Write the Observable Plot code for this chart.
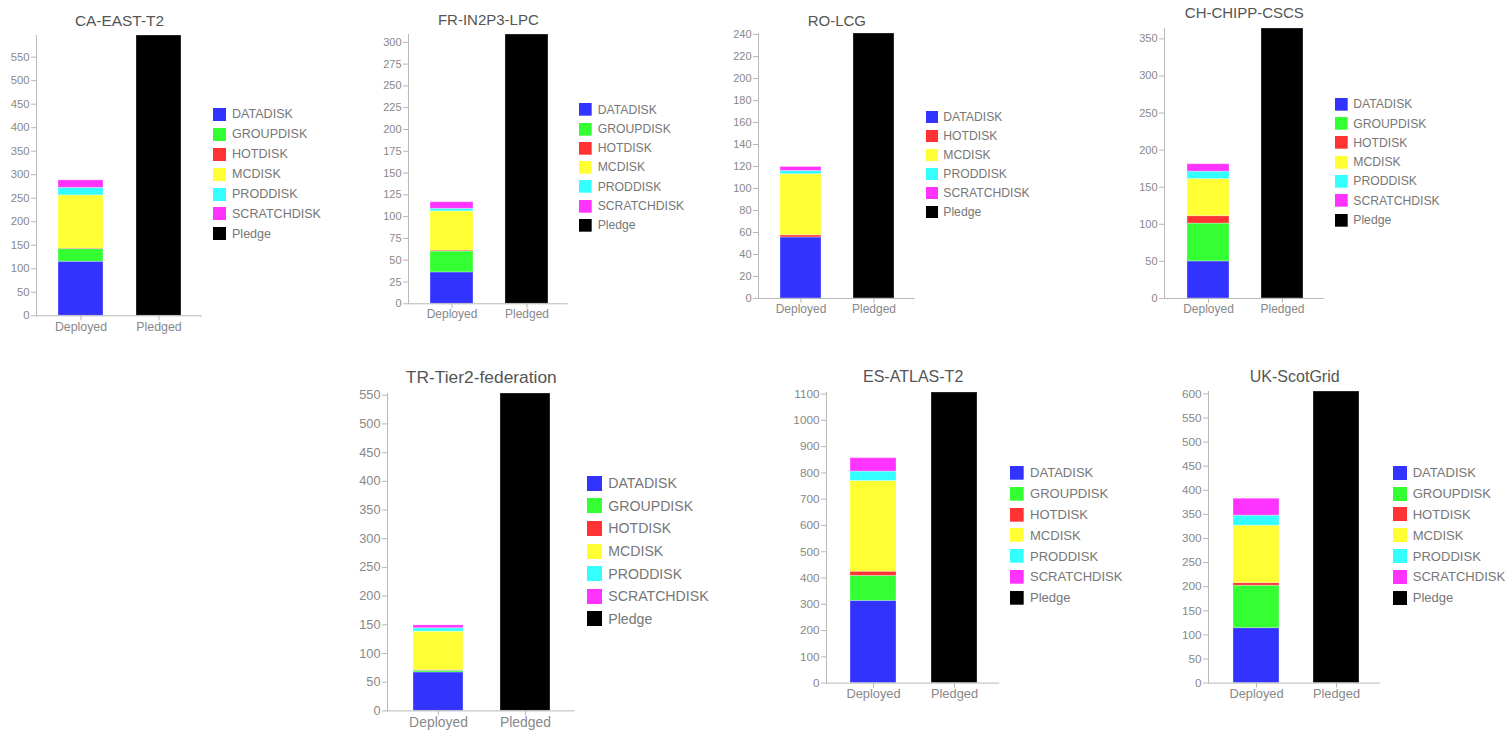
<!DOCTYPE html>
<html><head><meta charset="utf-8">
<script src="https://cdn.jsdelivr.net/npm/d3@7"></script>
<script src="https://cdn.jsdelivr.net/npm/@observablehq/plot@0.6"></script>
<style>
html,body{margin:0;padding:0;background:#fff;}
body{width:1509px;height:731px;position:relative;overflow:hidden;font-family:"Liberation Sans",Arial,sans-serif;}
.clip{position:absolute;top:0;height:731px;}
.clip svg{position:absolute;max-width:none !important;background:none !important;}
.leg{position:absolute;}
</style></head><body>
<script>
// ---- data ----
const sites = ["CA-EAST-T2", "FR-IN2P3-LPC", "RO-LCG", "CH-CHIPP-CSCS", "TR-Tier2-federation", "ES-ATLAS-T2", "UK-ScotGrid"];
const bars = ["Deployed", "Pledged"];
const tokens = ["DATADISK", "GROUPDISK", "HOTDISK", "MCDISK", "PRODDISK", "SCRATCHDISK", "Pledge"];
const tokenColors = ["#3333ff", "#33ff33", "#ff3333", "#ffff33", "#33ffff", "#ff33ff", "#000000"];
const DATADISK    = [115, 36, 55.5, 50, 67, 313, 114];
const GROUPDISK   = [27, 24, null, 51, 3, 95, 88];
const HOTDISK     = [1, 1, 2, 10, 1, 16, 5.5];
const MCDISK      = [113, 45, 55.5, 50, 67, 345, 119];
const PRODDISK    = [16, 3, 3, 10, 6, 36, 21];
const SCRATCHDISK = [16, 7.5, 3.6, 10, 5, 51, 35];
const PLEDGE      = [596, 309, 241, 364, 553, 1106, 605];
const yTicks = [
  [0, 50, 100, 150, 200, 250, 300, 350, 400, 450, 500, 550],
  [0, 25, 50, 75, 100, 125, 150, 175, 200, 225, 250, 275, 300],
  [0, 20, 40, 60, 80, 100, 120, 140, 160, 180, 200, 220, 240],
  [0, 50, 100, 150, 200, 250, 300, 350],
  [0, 50, 100, 150, 200, 250, 300, 350, 400, 450, 500, 550],
  [0, 100, 200, 300, 400, 500, 600, 700, 800, 900, 1000, 1100],
  [0, 50, 100, 150, 200, 250, 300, 350, 400, 450, 500, 550, 600]
];
const series = [DATADISK, GROUPDISK, HOTDISK, MCDISK, PRODDISK, SCRATCHDISK];

// ---- layout (page pixels) ----
const layout = [
 {ax:36, ar:202, top:35, bot:315.3, tdy:-20, c:[80.5,158.5], w:45, lx:212.7, ly:114.3, rh:19.95, sw:13, gap:6.3, s:1.03},
 {ax:408.3, ar:568, top:34, bot:303.3, tdy:-20, c:[452,527], w:42.7, lx:579, ly:109.7, rh:19.27, sw:12.7, gap:6, s:1},
 {ax:758.3, ar:915, top:33.3, bot:298.3, tdy:-18.3, c:[800.8,874.2], w:41.7, lx:925.7, ly:117.3, rh:19, sw:12, gap:5.6, s:1},
 {ax:1164.3, ar:1324, top:28.3, bot:298.3, tdy:-21, c:[1208,1282.8], w:42.6, lx:1335, ly:104.3, rh:19.28, sw:12.7, gap:5.6, s:1},
 {ax:386.7, ar:574.3, top:393.3, bot:710.7, tdy:-23.3, c:[437.5,525.3], w:50.4, lx:586.7, ly:483.3, rh:22.6, sw:15, gap:6.6, s:1.16},
 {ax:825.7, ar:999, top:391.7, bot:682.3, tdy:-22.4, c:[872.3,953.7], w:46, lx:1010, ly:472.7, rh:20.83, sw:13.7, gap:6.3, s:1.07},
 {ax:1208.3, ar:1380.7, top:390.7, bot:682.3, tdy:-21.4, c:[1255.3,1336], w:46, lx:1392.7, ly:472.7, rh:20.83, sw:14, gap:6, s:1.07}
];

const FONT = "Liberation Sans, Arial, sans-serif";
const css = [];

sites.forEach((site, i) => {
  const L = layout[i];
  const ML = 50, MR = 6, MT = 40, MB = 32;
  const rows = [];
  series.forEach((arr, k) => { if (arr[i] != null) rows.push({bar: "Deployed", token: tokens[k], value: arr[i]}); });
  rows.push({bar: "Pledged", token: "Pledge", value: PLEDGE[i]});

  const step = L.c[1] - L.c[0];
  const pi = 1 - L.w / step;
  const lg = L.c[0] - L.w / 2 - L.ax, rg = L.ar - (L.c[1] + L.w / 2);
  const po = (lg + rg) / (2 * step);
  const align = lg / (lg + rg);

  const plot = Plot.plot({
    width: ML + (L.ar - L.ax) + MR,
    height: MT + (L.bot - L.top) + MB,
    marginLeft: ML, marginRight: MR, marginTop: MT, marginBottom: MB,
    style: {fontFamily: FONT, background: "none", overflow: "visible"},
    x: {domain: bars, paddingInner: pi, paddingOuter: po, align, label: null},
    y: {domain: [0, PLEDGE[i]], label: null},
    color: {domain: tokens, range: tokenColors},
    marks: [
      Plot.barY(rows, {x: "bar", y: "value", fill: "token", stroke: "white", strokeOpacity: 0.3, strokeWidth: 1}),
      Plot.frame({anchor: "left", stroke: "#b8b8b8"}),
      Plot.ruleY([0], {stroke: "#b8b8b8"}),
      Plot.axisY({ticks: yTicks[i], tickFormat: d => String(d), tickSize: 5, tickPadding: 2, fontSize: 11 * L.s, stroke: "#b8b8b8", fill: "#888", label: null}),
      Plot.axisX({tickSize: 5, tickPadding: 1, fontSize: 12 * L.s, stroke: "#b8b8b8", fill: "#888", label: null}),
      Plot.text([site], {frameAnchor: "top", dy: L.tdy, fontSize: 15 * L.s, fill: "#555", text: d => d})
    ]
  });

  const box = document.createElement("div");
  box.className = "clip";
  box.style.left = "0px";
  plot.style.left = (L.ax - ML) + "px";
  plot.style.top = (L.top - MT) + "px";
  box.appendChild(plot);
  document.body.appendChild(box);

  const present = tokens.filter((t, k) => k === 6 || series[k][i] != null);
  const leg = Plot.legend({
    color: {domain: present, range: present.map(t => tokenColors[tokens.indexOf(t)])},
    legend: "swatches", columns: 1, swatchSize: L.sw, className: "lg" + i
  });
  const wrap = document.createElement("div");
  wrap.className = "leg";
  wrap.style.left = L.lx + "px";
  wrap.style.top = (L.ly - L.rh / 2) + "px";
  wrap.appendChild(leg);
  document.body.appendChild(wrap);
  css.push(`.lg${i}-swatches{font-family:${FONT} !important;font-size:${12.2 * L.s}px !important;color:#777;margin:0 !important;}
.lg${i}-swatch{height:${L.rh}px;padding-bottom:0 !important;display:flex !important;align-items:center !important;}
.lg${i}-swatch > svg{margin-right:${L.gap}px !important;}`);
});
const st = document.createElement("style");
st.textContent = css.join("\n");
document.head.appendChild(st);
</script></body></html>
